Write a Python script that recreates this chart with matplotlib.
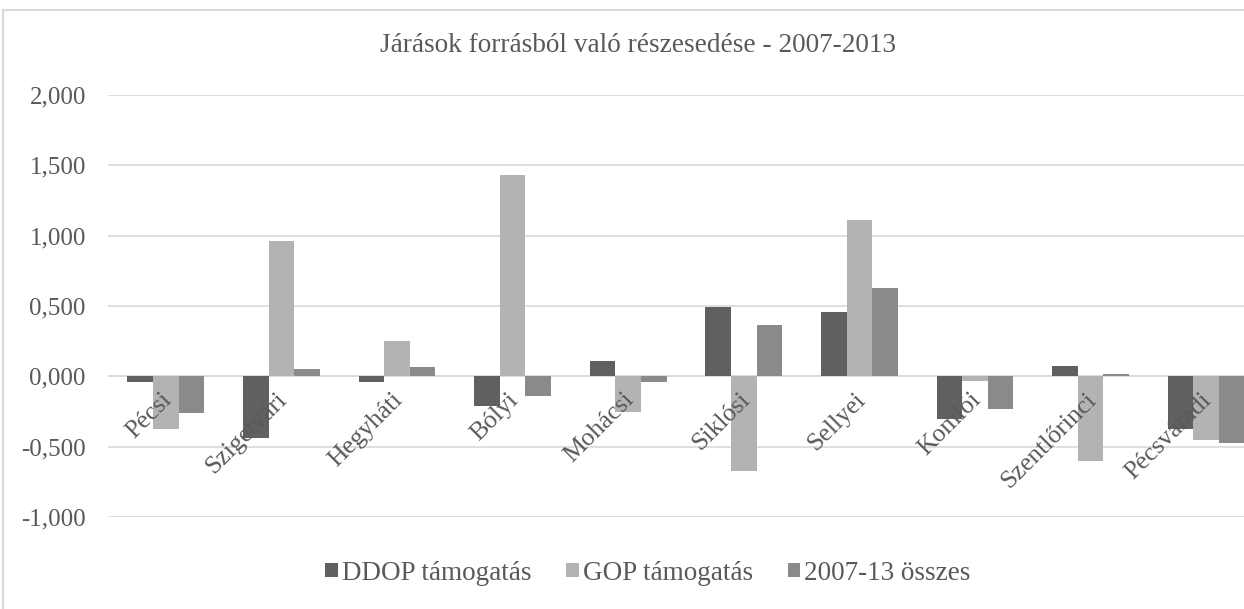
import numpy as np
import matplotlib.pyplot as plt
from matplotlib.ticker import FuncFormatter
from matplotlib.lines import Line2D

categories = ["Pécsi", "Szigetvári", "Hegyháti", "Bólyi", "Mohácsi",
              "Siklósi", "Sellyei", "Komlói", "Szentlőrinci", "Pécsváradi"]
ddop = [-0.04, -0.44, -0.04, -0.21, 0.11, 0.49, 0.46, -0.305, 0.07, -0.375]
gop = [-0.375, 0.96, 0.25, 1.43, -0.255, -0.67, 1.11, -0.03, -0.60, -0.45]
total = [-0.26, 0.05, 0.065, -0.14, -0.04, 0.365, 0.625, -0.235, 0.015, -0.475]
series_names = ["DDOP támogatás", "GOP támogatás", "2007-13 összes"]
colors = ["#606060", "#b3b3b3", "#8a8a8a"]

plt.rcParams['font.family'] = ['Liberation Serif', 'DejaVu Serif']
txt = "#595959"

W, H = 1244, 609
fig = plt.figure(figsize=(W / 100, H / 100), dpi=100)

# chart border (cropped at right/bottom)
fig.add_artist(Line2D([3 / W, 3 / W], [0, 1 - 9.5 / H], color="#d9d9d9", lw=1.5))
fig.add_artist(Line2D([3 / W, 1], [1 - 9.5 / H, 1 - 9.5 / H], color="#d9d9d9", lw=1.5))

# plot area: y 95 (2.0) .. 517 (-1.0), x 108 .. 1264
ax = fig.add_axes([108 / W, 1 - 517 / H, (1264 - 108) / W, (517 - 95) / H])

x = np.arange(len(categories))
bw = 0.222
for i, (vals, name) in enumerate(zip([ddop, gop, total], series_names)):
    ax.bar(x + (i - 1) * bw, vals, bw, color=colors[i], label=name, zorder=3)

ax.set_xlim(-0.5, len(categories) - 0.5)
ax.set_ylim(-1.0, 2.0)
ax.set_yticks(np.arange(-1.0, 2.01, 0.5))
ax.yaxis.set_major_formatter(FuncFormatter(lambda v, p: f"{v:.3f}".replace(".", ",")))
ax.grid(axis="y", color="#d9d9d9", lw=1.2, zorder=0)
ax.axhline(0, color="#d9d9d9", lw=1.2, zorder=1)
for s in ax.spines.values():
    s.set_visible(False)
ax.tick_params(axis="y", length=0, labelsize=18, labelcolor=txt, pad=16)
ax.set_xticks([])

for xi, lab in zip(x, categories):
    ax.annotate(lab, (xi, 0), xytext=(-4, -9), textcoords="offset points",
                rotation=45, ha="right", va="top", rotation_mode="anchor",
                fontsize=18.5, color=txt, zorder=5)

fig.text(638 / W, 1 - 45 / H, "Járások forrásból való részesedése - 2007-2013",
         ha="center", va="center", fontsize=19.6, color=txt)

fig.legend(loc="center", bbox_to_anchor=(648 / W, 1 - 573 / H), ncol=3, frameon=False,
           fontsize=19.5, labelcolor=txt, handlelength=0.45, handleheight=0.45,
           handletextpad=0.15, columnspacing=1.3)

fig.savefig("out.png", dpi=100)
